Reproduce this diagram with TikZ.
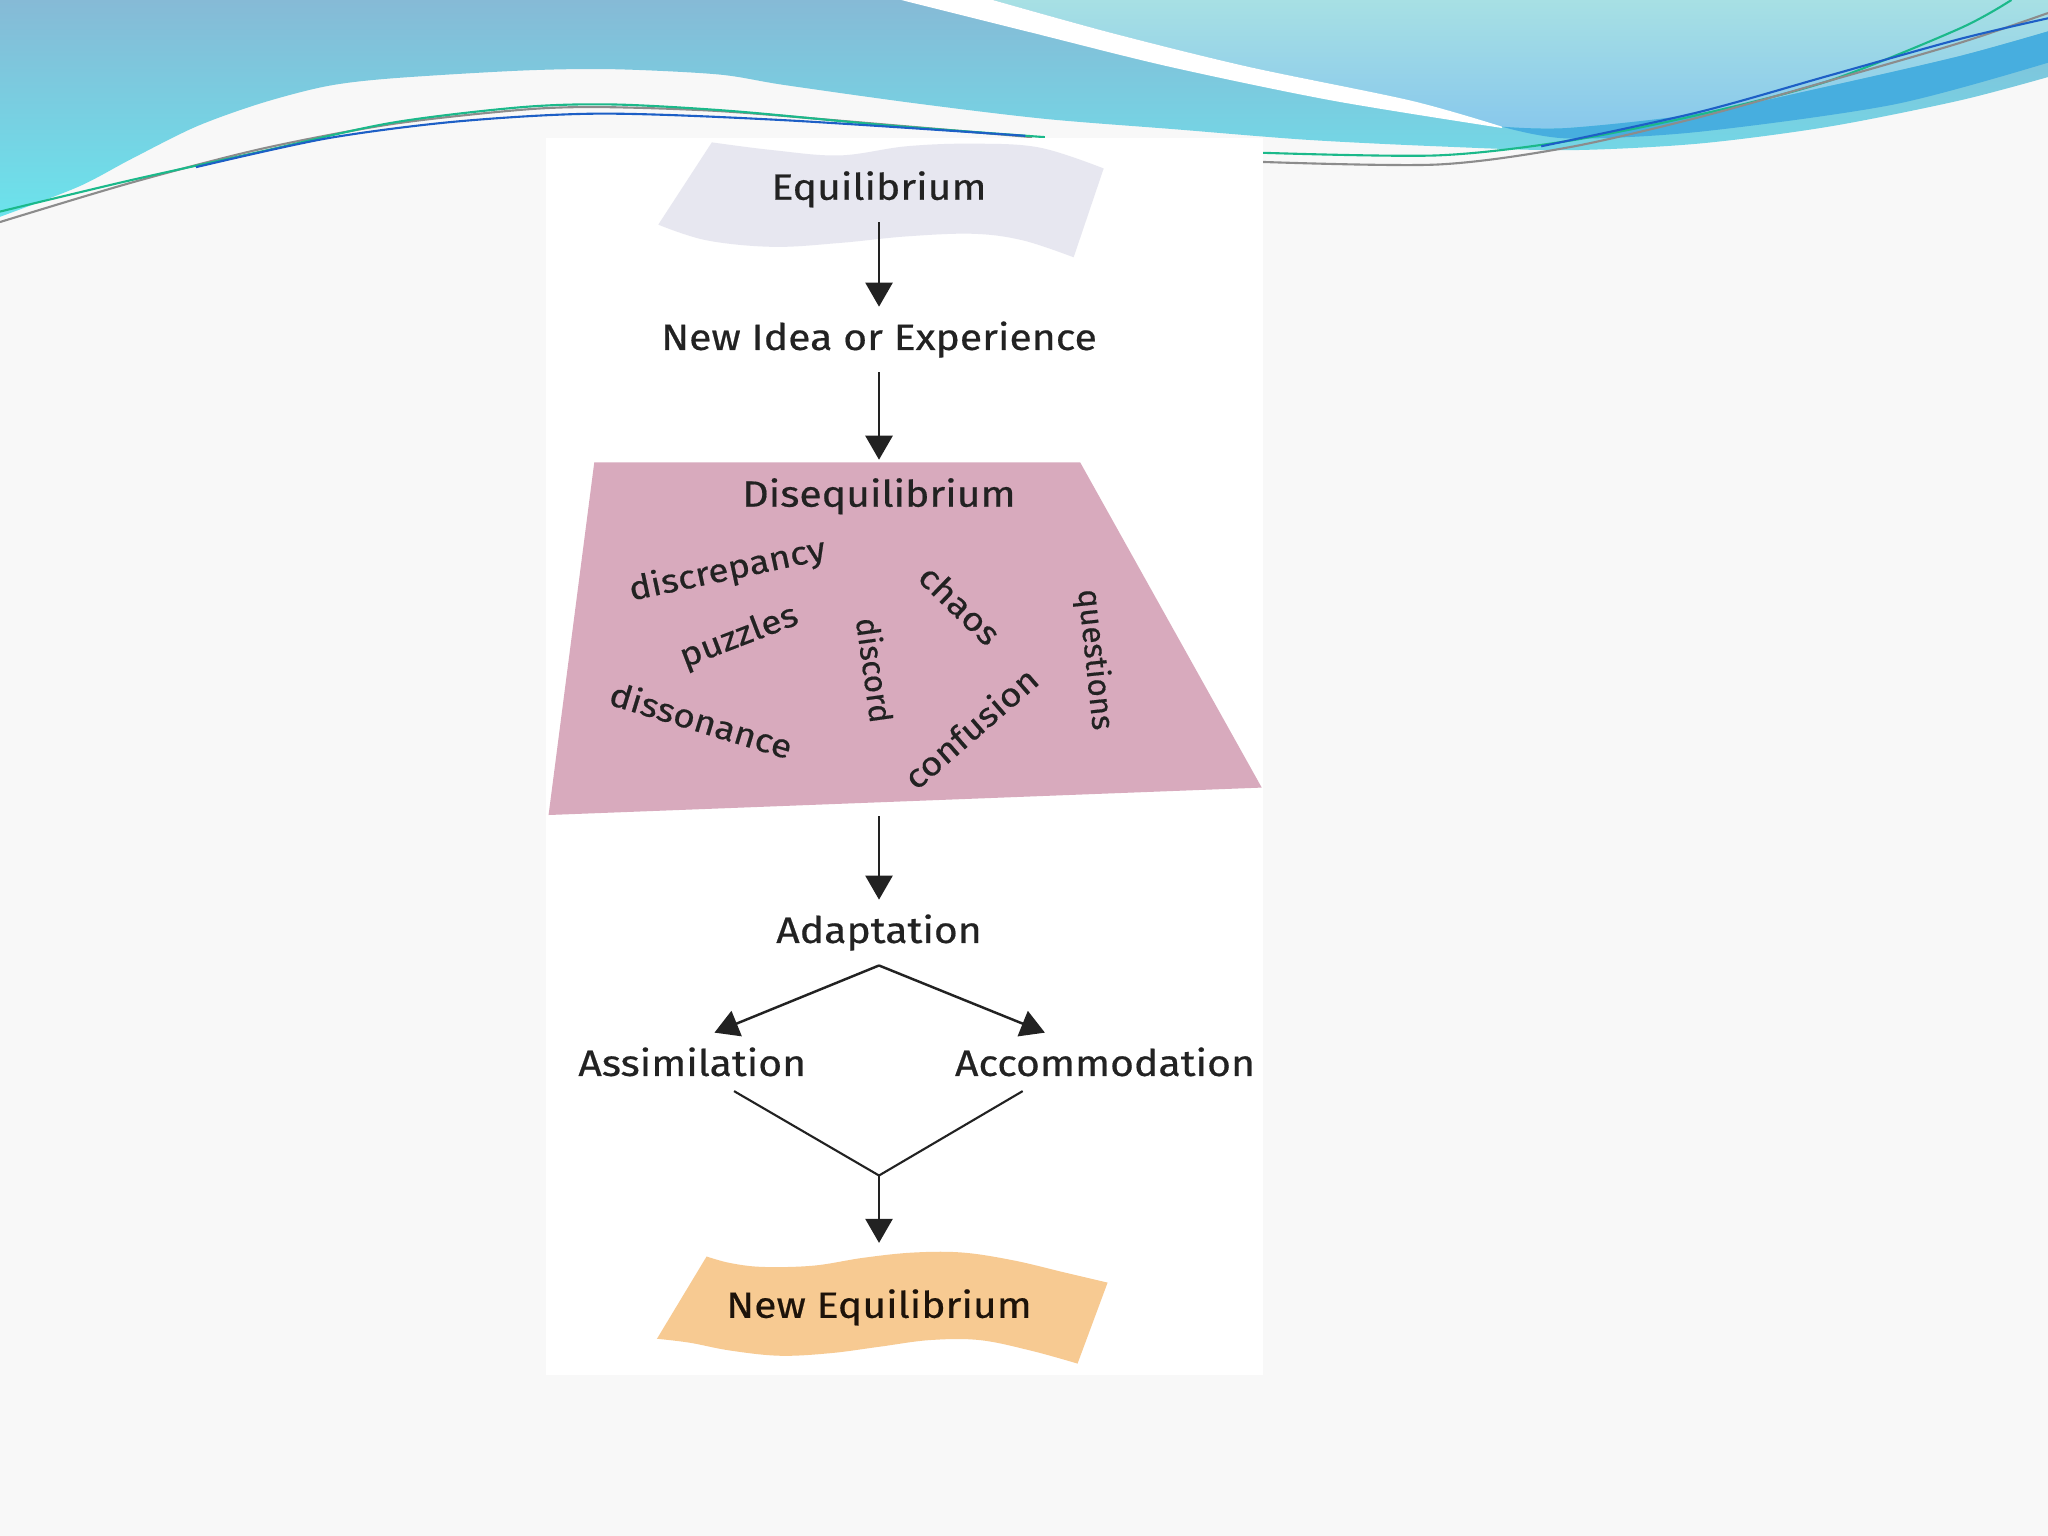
\documentclass[tikz,border=0pt]{standalone}
\usepackage{fontspec}
\setmainfont{Fira Sans}
\newfontfamily\widefont[FakeStretch=1.12, FakeBold=0.5]{Fira Sans}
\newfontfamily\slimfont[FakeBold=0.5]{Fira Sans}
\usetikzlibrary{arrows.meta,positioning,calc}

\definecolor{bgpage}{HTML}{F8F8F8}
\definecolor{wavetop}{HTML}{86BAD6}
\definecolor{wavebot}{HTML}{6BE3EC}
\definecolor{blobtop}{HTML}{A7E0E4}
\definecolor{blobbot}{HTML}{88C8EC}
\definecolor{ribbon}{HTML}{47AEDF}
\definecolor{lngreen}{HTML}{1BB98A}
\definecolor{lnblue}{HTML}{1D5FC6}
\definecolor{lngray}{HTML}{8C8C8C}
\definecolor{eqfill}{HTML}{E7E7F0}
\definecolor{disfill}{HTML}{D8AABD}
\definecolor{neweqfill}{HTML}{F7CA92}
\definecolor{ink}{HTML}{222222}

\tikzset{
  stage/.style={font=\widefont\fontsize{10.4}{12}\selectfont, text=ink, inner sep=4pt},
  word/.style={font=\widefont\fontsize{9.4}{11}\selectfont, text=ink, inner sep=0pt},
  vword/.style={font=\slimfont\fontsize{9}{11}\selectfont, text=ink, inner sep=0pt},
  arr/.style={-{Triangle[length=0.24cm,width=0.27cm]}, line width=0.7pt, draw=ink},
  wave/.style={line width=0.6pt},
}

\begin{document}
\begin{tikzpicture}[x=0.013061cm, y=-0.013061cm]
\fill[bgpage] (0,0) rectangle (1568,1176);
\useasboundingbox (0,0) rectangle (1568,1176);

% Wave band along the top.
\shade[top color=wavetop, bottom color=wavebot] (0,0) -- (1568,0) -- (1568,59)
    -- plot[smooth] coordinates {(1568,59) (1500,77) (1400,97) (1300,110) (1200,115) (1100,112)
       (1000,107) (900,99) (800,91) (700,79) (600,65) (550,57) (470,53) (400,54) (300,60)
       (250,66) (200,79) (150,97) (100,122) (60,143) (0,166)} -- cycle;
\shade[top color=blobtop, bottom color=blobbot] (760,0)
    -- plot[smooth] coordinates {(760,0) (850,25) (955,51) (1080,77) (1150,97)}
    -- plot[smooth] coordinates {(1150,97) (1200,98) (1300,87) (1400,66) (1500,43) (1568,24)}
    -- (1568,0) -- cycle;
\fill[ribbon] plot[smooth] coordinates {(1150,97) (1200,98) (1300,87) (1400,66) (1500,43) (1568,24)}
    -- (1568,48) -- plot[smooth] coordinates {(1568,48) (1450,80) (1300,101) (1200,106) (1150,97)};
\fill[white] plot[smooth] coordinates {(690,0) (790,25) (895,51) (1020,77) (1150,98)}
    -- plot[smooth] coordinates {(1150,97) (1080,77) (955,51) (850,25) (760,0)} -- cycle;

% Thin lines over the wave.
\draw[wave, lngray] plot[smooth] coordinates {(0,170) (100,140) (200,114) (300,95) (400,84) (460,82) (550,85) (650,93) (790,105)};
\draw[wave, lngreen] plot[smooth] coordinates {(0,162) (100,138) (200,116) (300,94) (400,82) (470,80) (560,85) (680,96) (800,105)};
\draw[wave, lnblue] plot[smooth] coordinates {(150,128) (250,106) (350,93) (460,87) (600,92) (785,104)};
\draw[wave, lngreen] plot[smooth] coordinates {(967,117) (1100,119) (1200,108) (1300,88) (1400,62) (1500,22) (1540,0)};
\draw[wave, lngray] plot[smooth] coordinates {(967,124) (1100,126) (1200,113) (1300,90) (1400,62) (1500,33) (1568,10)};
\draw[wave, lnblue] plot[smooth] coordinates {(1180,112) (1300,86) (1400,58) (1500,30) (1568,14)};

% Picture panel.
\fill[white] (418,106) rectangle (967,1053);

% Banners and the disequilibrium sheet.
\fill[eqfill] plot[smooth, tension=0.6] coordinates {(545,109) (592,115) (643,119) (694,112) (745,110) (796,113) (845,129)}
    -- plot[smooth, tension=0.6] coordinates {(822,197) (783,184) (745,179) (694,181) (643,186) (592,189) (541,184) (504,172)} -- cycle;
\fill[disfill] (455,354) -- (827,354) -- (966,603) -- (420,624) -- cycle;
\fill[neweqfill] plot[smooth, tension=0.6] coordinates {(541,962) (559,967) (584,970) (623,969) (661,963) (699,959) (737,959) (776,965) (814,974) (848,982)}
    -- plot[smooth, tension=0.6] coordinates {(825,1044) (789,1034) (750,1026) (712,1026) (674,1031) (636,1036) (597,1038) (559,1034) (528,1028) (503,1025)} -- cycle;

% Stages.
\node[stage] (eq) at (673,145) {Equilibrium};
\node[stage] (idea) at (673,260) {New Idea or Experience};
\node[stage] (dis) at (673,380) {Disequilibrium};
\coordinate (distop) at (673,352);
\coordinate (disbot) at (673,625);
\node[stage] (adapt) at (673,714) {Adaptation};
\node[stage] (assim) at (530,813) {Assimilation};
\node[stage] (accom) at (846,813) {Accommodation};
\coordinate (merge) at (673,900);
\node[stage, inner ysep=13pt, text=black!85!brown] (neweq) at (673,1001) {New Equilibrium};

% Words scattered on the sheet.
\foreach \x/\y/\ang/\term [count=\i] in {557/437/12/discrepancy, 566/488/21/puzzles, 537/551/-17/dissonance, 735/463/-44/chaos, 743/557/41/confusion}{
    \node[word, rotate=\ang] (w\i) at (\x,\y) {\term};
}
\node[vword, rotate=-82] (w6) at (670,513) {discord};
\node[vword, rotate=-84] (w7) at (838,505) {questions};

% Connectors.
\draw[arr] (eq.south) -- (idea.north);
\draw[arr] (idea.south) -- (distop);
\draw[arr] (disbot) -- (adapt.north);
\draw[arr] (adapt.south) -- ($(assim.north)+(17,0)$);
\draw[arr] (adapt.south) -- ($(accom.north)+(-46,0)$);
\draw[line width=0.6pt, ink] ($(assim.south)+(32,0)$) -- (merge) -- ($(accom.south)+(-63,0)$);
\draw[arr] (merge) -- (neweq.north);
\end{tikzpicture}
\end{document}
